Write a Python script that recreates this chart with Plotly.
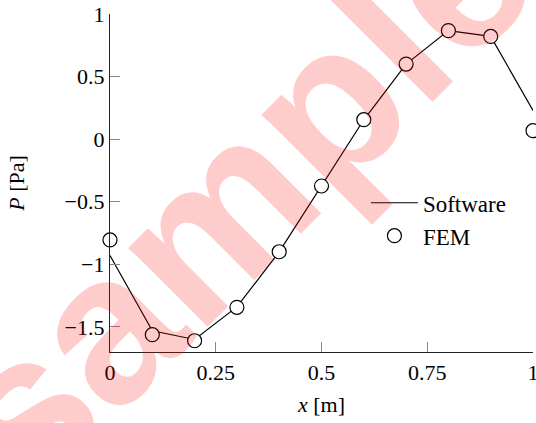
import plotly.graph_objects as go

x_vals = [0.0, 0.1, 0.2, 0.3, 0.4, 0.5, 0.6, 0.7, 0.8, 0.9, 1.0]
software = [-0.93, -1.53, -1.60, -1.34, -0.90, -0.37, 0.155, 0.60, 0.867, 0.821, 0.23]
fem = [-0.805, -1.562, -1.61, -1.343, -0.899, -0.374, 0.156, 0.60, 0.867, 0.821, 0.068]

x_ticks = [0, 0.25, 0.5, 0.75, 1]
x_ticktext = ["0", "0.25", "0.5", "0.75", "1"]
y_ticks = [-1.5, -1, -0.5, 0, 0.5, 1]
y_ticktext = ["\u22121.5", "\u22121", "\u22120.5", "0", "0.5", "1"]

serif = "Liberation Serif"

fig = go.Figure()
fig.add_trace(go.Scatter(
    x=x_vals, y=software, mode="lines", name="Software",
    line=dict(color="black", width=1.2), cliponaxis=False,
))
fig.add_trace(go.Scatter(
    x=x_vals, y=fem, mode="markers", name="FEM",
    marker=dict(symbol="circle", size=14, color="white",
                line=dict(color="black", width=1.2)),
    cliponaxis=False,
))

fig.add_annotation(
    text="sample", xref="paper", yref="paper", x=0.30, y=0.47,
    xanchor="center", yanchor="middle", showarrow=False, textangle=-45,
    font=dict(family="Liberation Sans", size=212, color="rgba(255,0,0,0.2)", weight="bold"),
)

fig.update_layout(
    width=536, height=423,
    margin=dict(l=110, r=3, t=14, b=71, autoexpand=False),
    paper_bgcolor="white", plot_bgcolor="white",
    font=dict(family=serif, size=22, color="black"),
    showlegend=True,
    legend=dict(x=0.605, y=0.505, xanchor="left", yanchor="top",
                bgcolor="rgba(0,0,0,0)", borderwidth=0,
                font=dict(family=serif, size=23), itemwidth=47,
                tracegroupgap=0),
    xaxis=dict(range=[0, 1], tickvals=x_ticks, ticktext=x_ticktext,
               showgrid=False, zeroline=False, showline=True, automargin=False,
               linecolor="#222", linewidth=1.2, ticks="inside", ticklen=10,
               tickcolor="#888", tickwidth=1, ticklabeloverflow="allow",
               title=dict(text="<i>x</i> [m]", standoff=13,
                          font=dict(family=serif, size=22))),
    yaxis=dict(range=[-1.70, 1.0], tickvals=y_ticks, ticktext=y_ticktext,
               showgrid=False, zeroline=False, showline=True, automargin=False,
               linecolor="#222", linewidth=1.2, ticks="inside", ticklen=10,
               tickcolor="#888", tickwidth=1, ticklabeloverflow="allow",
               title=dict(text="<i>P</i> [Pa]", standoff=33,
                          font=dict(family=serif, size=22))),
)

fig.write_html("out.html")
